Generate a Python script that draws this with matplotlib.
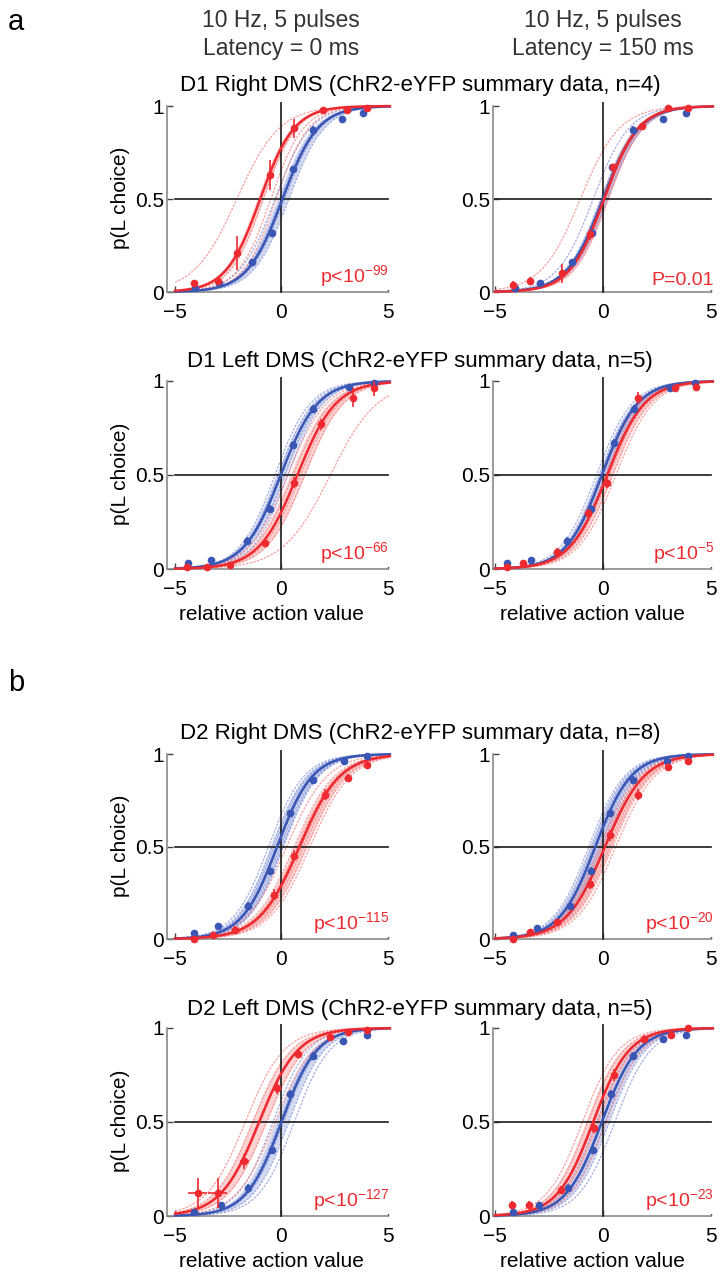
import numpy as np
import matplotlib
matplotlib.use("Agg")
import matplotlib.pyplot as plt

plt.rcParams['font.family'] = ['Liberation Sans', 'DejaVu Sans']
plt.rcParams['mathtext.default'] = 'regular'
plt.rcParams['axes.unicode_minus'] = True

W, H = 722, 1275

# ---------------- data (panel order: row-major, 2 columns x 4 rows) ----------------
col_headers = ["10 Hz, 5 pulses\nLatency = 0 ms", "10 Hz, 5 pulses\nLatency = 150 ms"]
row_titles = ["D1 Right DMS (ChR2-eYFP summary data, n=4)",
              "D1 Left DMS (ChR2-eYFP summary data, n=5)",
              "D2 Right DMS (ChR2-eYFP summary data, n=8)",
              "D2 Left DMS (ChR2-eYFP summary data, n=5)"]
p_labels = [r"p<10$^{-99}$", "P=0.01",
            r"p<10$^{-66}$", r"p<10$^{-5}$",
            r"p<10$^{-115}$", r"p<10$^{-20}$",
            r"p<10$^{-127}$", r"p<10$^{-23}$"]
x_ticks = [-5, 0, 5]
y_ticks = [0, 0.5, 1]
y_ticklabels = ["0", "0.5", "1"]

# control (no stimulation) binned data
ctrl_x = [[-4.05, -2.95, -1.36, -0.43, 0.55, 1.50, 2.85, 3.85],
          [-4.07, -2.90, -1.44, -0.50, 0.41, 1.40, 2.80, 3.85],
          [-4.40, -3.33, -1.60, -0.56, 0.56, 1.50, 3.20, 4.37],
          [-4.45, -3.33, -1.67, -0.56, 0.51, 1.44, 3.10, 4.26],
          [-4.13, -3.00, -1.55, -0.56, 0.42, 1.50, 2.96, 4.04],
          [-4.15, -3.05, -1.53, -0.56, 0.32, 1.39, 2.96, 3.94],
          [-4.13, -2.86, -1.55, -0.42, 0.42, 1.50, 2.90, 4.04],
          [-4.15, -2.96, -1.62, -0.45, 0.37, 1.39, 2.78, 3.85]]
ctrl_p = [[0.02, 0.05, 0.16, 0.32, 0.66, 0.87, 0.93, 0.96],
          [0.02, 0.05, 0.16, 0.32, 0.67, 0.87, 0.93, 0.96],
          [0.03, 0.05, 0.15, 0.32, 0.66, 0.85, 0.97, 0.99],
          [0.03, 0.05, 0.15, 0.32, 0.67, 0.85, 0.96, 0.99],
          [0.03, 0.07, 0.18, 0.37, 0.68, 0.86, 0.96, 0.99],
          [0.02, 0.06, 0.18, 0.37, 0.68, 0.86, 0.96, 0.99],
          [0.02, 0.06, 0.15, 0.35, 0.65, 0.85, 0.93, 0.96],
          [0.02, 0.06, 0.15, 0.35, 0.65, 0.85, 0.94, 0.96]]
ctrl_err = [[0.01, 0.01, 0.02, 0.02, 0.02, 0.02, 0.01, 0.01]] * 8

# stimulation binned data
stim_x = [[-4.10, -3.00, -2.07, -0.52, 0.57, 1.97, 3.10, 4.03],
          [-4.15, -3.40, -1.90, -0.60, 0.47, 1.80, 3.00, 3.95],
          [-4.46, -3.50, -2.40, -0.75, 0.61, 1.88, 3.38, 4.37],
          [-4.45, -3.70, -2.13, -0.69, 0.19, 1.62, 3.33, 4.30],
          [-4.13, -3.24, -2.16, -0.33, 0.61, 2.07, 3.15, 4.04],
          [-4.15, -3.38, -2.13, -0.60, 0.32, 1.62, 3.00, 3.94],
          [-3.94, -3.00, -1.74, -0.23, 0.80, 2.30, 3.15, 4.04],
          [-4.20, -3.43, -1.94, -0.42, 0.51, 1.90, 3.15, 3.94]]
stim_p = [[0.05, 0.06, 0.21, 0.63, 0.88, 0.98, 0.98, 0.99],
          [0.04, 0.06, 0.10, 0.31, 0.67, 0.89, 0.99, 0.99],
          [0.01, 0.01, 0.02, 0.14, 0.46, 0.77, 0.91, 0.96],
          [0.01, 0.03, 0.09, 0.30, 0.46, 0.91, 0.96, 0.97],
          [0.00, 0.02, 0.05, 0.24, 0.45, 0.78, 0.87, 0.94],
          [0.00, 0.04, 0.09, 0.30, 0.56, 0.78, 0.93, 0.96],
          [0.12, 0.12, 0.29, 0.68, 0.86, 0.95, 0.98, 0.99],
          [0.06, 0.06, 0.14, 0.47, 0.75, 0.94, 0.96, 1.00]]
stim_err = [[0.01, 0.02, 0.09, 0.08, 0.05, 0.01, 0.01, 0.01],
            [0.02, 0.02, 0.05, 0.03, 0.02, 0.02, 0.01, 0.01],
            [0.01, 0.01, 0.01, 0.02, 0.03, 0.03, 0.05, 0.04],
            [0.01, 0.01, 0.02, 0.02, 0.03, 0.03, 0.02, 0.02],
            [0.01, 0.01, 0.02, 0.03, 0.03, 0.03, 0.02, 0.02],
            [0.01, 0.01, 0.02, 0.03, 0.03, 0.03, 0.02, 0.02],
            [0.08, 0.08, 0.04, 0.03, 0.02, 0.02, 0.01, 0.01],
            [0.02, 0.02, 0.02, 0.03, 0.03, 0.02, 0.02, 0.01]]
stim_xerr = [[0.12] * 8, [0.12] * 8, [0.12] * 8, [0.12] * 8,
             [0.12] * 8, [0.12] * 8,
             [0.45, 0.45, 0.2, 0.12, 0.12, 0.12, 0.12, 0.12], [0.12] * 8]

# logistic fits: midpoint and slope
ctrl_mid = [0.05, 0.00, -0.03, -0.05, -0.20, -0.35, 0.00, -0.05]
ctrl_slope = [1.20, 1.20, 1.15, 1.20, 1.20, 1.20, 1.20, 1.20]
stim_mid = [-1.00, 0.05, 0.75, 0.20, 0.85, 0.10, -1.05, -0.45]
stim_slope = [1.25, 1.25, 1.10, 1.15, 1.05, 1.10, 1.10, 1.20]

# individual-animal fits (midpoints); slopes
ctrl_ind = [[-0.30, -0.05, 0.15, 0.35],
            [-0.45, -0.10, 0.10, 0.20],
            [-0.30, -0.15, 0.00, 0.15, 0.30],
            [-0.30, -0.15, 0.00, 0.10, 0.20],
            [-0.60, -0.45, -0.35, -0.25, -0.15, -0.05, 0.05, 0.10],
            [-0.65, -0.55, -0.45, -0.35, -0.25, -0.15, -0.05, 0.05],
            [-0.40, -0.10, 0.10, 0.35, 0.60],
            [-0.30, -0.10, 0.10, 0.30, 0.55]]
stim_ind = [[-2.10, -0.85, -0.50, -0.25],
            [-1.05, -0.05, 0.10, 0.25],
            [0.30, 0.55, 0.90, 1.10, 2.30],
            [0.00, 0.15, 0.30, 0.45, 0.60],
            [0.25, 0.60, 0.75, 0.85, 0.95, 1.05, 1.20, 1.35],
            [-0.15, -0.05, 0.05, 0.15, 0.25, 0.35, 0.45, 0.60],
            [-1.70, -1.35, -1.00, -0.70, -0.30],
            [-0.95, -0.70, -0.50, -0.25, 0.15]]
stim_ind_slope = [[1.0, 1.3, 1.3, 1.3],
                  [1.1, 1.25, 1.25, 1.25],
                  [1.1, 1.1, 1.1, 1.1, 0.9],
                  [1.15] * 5, [1.05] * 8, [1.1] * 8, [1.1] * 5, [1.2] * 5]
ctrl_ind_slope = 1.2

# confidence bands (midpoint range)
ctrl_band = [(-0.20, 0.30), (-0.15, 0.20), (-0.25, 0.20), (-0.25, 0.15),
             (-0.50, 0.05), (-0.60, -0.10), (-0.30, 0.30), (-0.25, 0.25)]
stim_band = [(-1.15, -0.85), (-0.10, 0.25), (0.40, 1.10), (0.05, 0.45),
             (0.60, 1.20), (-0.10, 0.40), (-1.40, -0.70), (-0.80, -0.20)]

# ---------------- styling ----------------
BLUE = '#3a56b4'
RED = '#ee2a30'
LBLUE = '#8595da'
LRED = '#f78080'

col_px = [(167, 392, (-5.38, 5.2)), (493, 715, (-5.1, 5.2))]
row_px = [(102.3, 293.9), (377.2, 570.9), (750.3, 940.9), (1024.2, 1217.9)]
YLIM = (-0.01, 1.02)


def logistic(x, mid, k):
    return 1.0 / (1.0 + np.exp(-k * (x - mid)))


fig = plt.figure(figsize=(W / 100, H / 100), dpi=100)


def fx(px):
    return px / W


def fy(py):
    return 1 - py / H


for r in range(4):
    for c in range(2):
        i = r * 2 + c
        l, rt, xl = col_px[c]
        t, b = row_px[r]
        ax = fig.add_axes([fx(l), fy(b), (rt - l) / W, (b - t) / H])
        ax.set_xlim(*xl)
        ax.set_ylim(*YLIM)
        xs = np.linspace(-5.0, 5.1, 300)

        # bands
        lo_c = logistic(xs, ctrl_band[i][1], ctrl_slope[i])
        hi_c = logistic(xs, ctrl_band[i][0], ctrl_slope[i])
        ax.fill_between(xs, lo_c, hi_c, color=LBLUE, alpha=0.35, lw=0, zorder=1)
        lo_s = logistic(xs, stim_band[i][1], stim_slope[i])
        hi_s = logistic(xs, stim_band[i][0], stim_slope[i])
        ax.fill_between(xs, lo_s, hi_s, color=LRED, alpha=0.35, lw=0, zorder=1)

        # individual fits
        for m in ctrl_ind[i]:
            ax.plot(xs, logistic(xs, m, ctrl_ind_slope), color=LBLUE, lw=0.9,
                    ls=(0, (2, 1)), alpha=0.75, zorder=2)
        for m, k in zip(stim_ind[i], stim_ind_slope[i]):
            ax.plot(xs, logistic(xs, m, k), color=LRED, lw=0.9,
                    ls=(0, (2, 1)), alpha=0.75, zorder=2)

        # reference lines
        ax.plot([-5, 5], [0.5, 0.5], color='#1a1a1a', lw=1.2, zorder=3)
        ax.plot([0, 0], [0, 1.02], color='#1a1a1a', lw=1.2, zorder=3)

        # group fits
        ax.plot(xs, logistic(xs, ctrl_mid[i], ctrl_slope[i]), color=BLUE, lw=1.8, zorder=4)
        ax.plot(xs, logistic(xs, stim_mid[i], stim_slope[i]), color=RED, lw=1.8, zorder=4)

        # binned data
        ax.errorbar(ctrl_x[i], ctrl_p[i], yerr=ctrl_err[i], xerr=0.12, fmt='o',
                    ms=4.5, color=BLUE, elinewidth=1.2, capsize=0, zorder=5, clip_on=False)
        ax.errorbar(stim_x[i], stim_p[i], yerr=stim_err[i], xerr=stim_xerr[i], fmt='o',
                    ms=4.5, color=RED, elinewidth=1.2, capsize=0, zorder=6, clip_on=False)

        # axes styling
        for s in ['top', 'right']:
            ax.spines[s].set_visible(False)
        ax.spines['left'].set_bounds(0, 1)
        ax.spines['bottom'].set_bounds(xl[0], 5)
        ax.spines['bottom'].set_position(('data', 0))
        for s in ['left', 'bottom']:
            ax.spines[s].set_color('#8a8a8a')
            ax.spines[s].set_linewidth(1.2)
        ax.set_xticks(x_ticks)
        ax.set_xticklabels([str(v) if v >= 0 else '\u2212' + str(-v) for v in x_ticks])
        ax.set_yticks(y_ticks)
        ax.set_yticklabels(y_ticklabels)
        ax.tick_params(direction='in', length=4, width=1, color='#444444',
                       labelsize=15)
        ax.tick_params(axis='y', pad=2)
        ax.tick_params(axis='x', pad=8)
        ax.patch.set_visible(False)

        ax.text(5.05 if c == 0 else 5.15, 0.015, p_labels[i], color=RED, fontsize=14,
                ha='right', va='bottom', zorder=7,
                bbox=dict(facecolor='white', edgecolor='none', pad=0.5))

        if c == 0:
            fig.text(fx(121), fy((t + b) / 2), "p(L choice)", rotation=90,
                     ha='center', va='center', fontsize=15)
        if r in (1, 3):
            fig.text(fx(271 if c == 0 else 592), fy(b + 44), "relative action value",
                     ha='center', va='center', fontsize=15)

title_y = [86, 361, 734, 1009]
for r in range(4):
    fig.text(fx(420), fy(title_y[r]), row_titles[r], ha='center', va='center', fontsize=16)

for c, cx in enumerate([281, 603]):
    l1, l2 = col_headers[c].split("\n")
    fig.text(fx(cx), fy(20), l1, ha='center', va='center', fontsize=16.5, color='#333333')
    fig.text(fx(cx), fy(48), l2, ha='center', va='center', fontsize=16.5, color='#333333')

fig.text(fx(16), fy(22), "a", ha='center', va='center', fontsize=21)
fig.text(fx(16), fy(683), "b", ha='center', va='center', fontsize=21)

fig.savefig("out.png", dpi=100)
